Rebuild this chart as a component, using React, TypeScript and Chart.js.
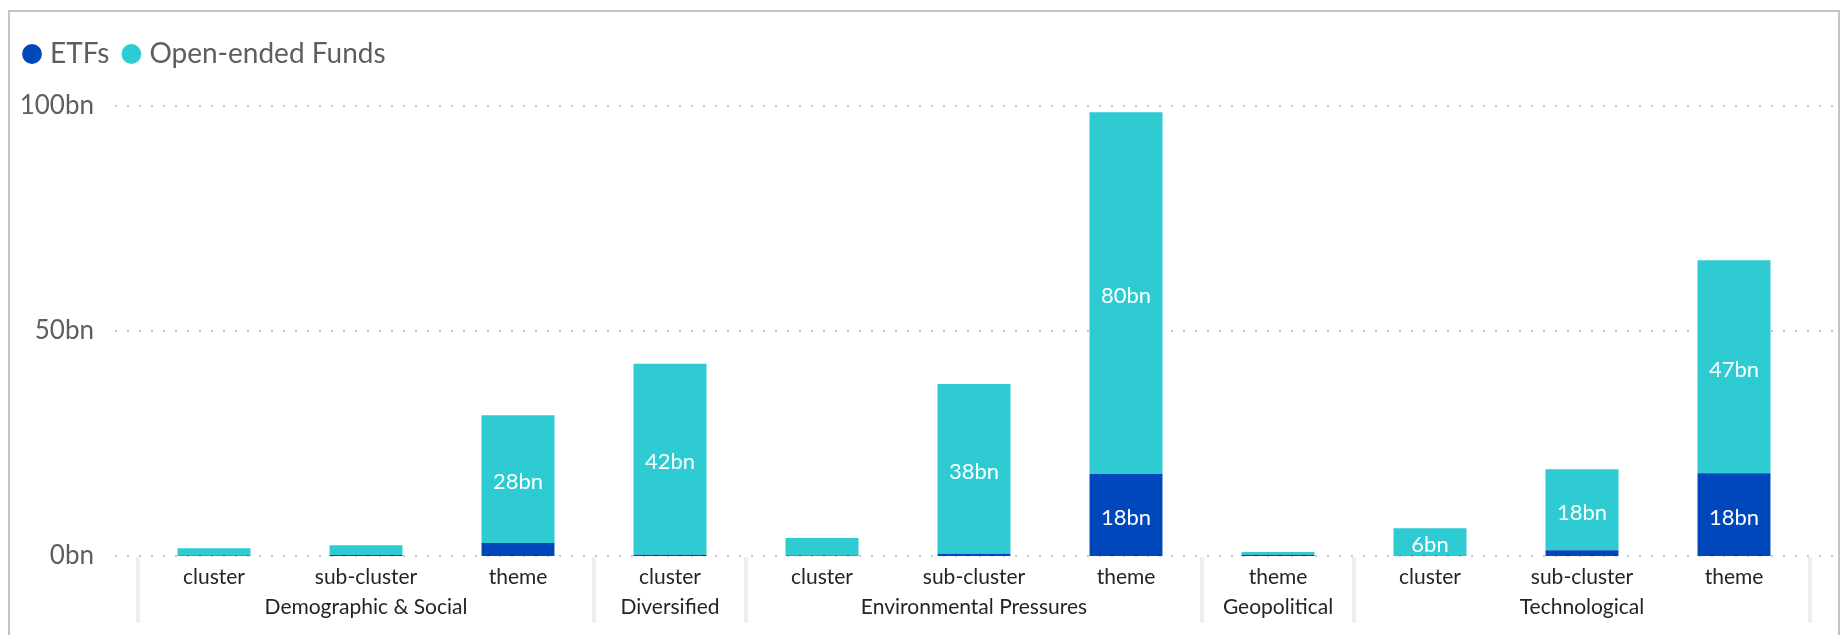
import React, { useEffect, useRef } from 'react';
import { Chart, registerables } from 'chart.js';

Chart.register(...registerables);

// ---- data ----
const subCategories = ['cluster', 'sub-cluster', 'theme', 'cluster', 'cluster', 'sub-cluster', 'theme', 'theme', 'cluster', 'sub-cluster', 'theme'];
const groups = [
  'Demographic & Social', 'Demographic & Social', 'Demographic & Social',
  'Diversified',
  'Environmental Pressures', 'Environmental Pressures', 'Environmental Pressures',
  'Geopolitical',
  'Technological', 'Technological', 'Technological',
];
const etfValues = [0.1, 0.2, 2.9, 0.3, 0.1, 0.5, 18.2, 0.3, 0.05, 1.3, 18.4];
const openEndedValues = [1.6, 2.2, 28.4, 42.4, 3.9, 37.7, 80.4, 0.6, 6.1, 18.0, 47.3];
const yTickValues = [0, 50, 100];
const seriesNames = ['ETFs', 'Open-ended Funds'];
const seriesColors = ['#0047BB', '#2ECBD3'];

const FONT = 'Lato, "Noto Sans", sans-serif';

// group spans -> multi-line labels (group name under the middle category)
function buildSpans() {
  const spans: { name: string; start: number; end: number }[] = [];
  groups.forEach((g, i) => {
    const last = spans[spans.length - 1];
    if (last && last.name === g) last.end = i;
    else spans.push({ name: g, start: i, end: i });
  });
  return spans;
}
const spans = buildSpans();
const labels = subCategories.map((s, i) => {
  const sp = spans.find((p) => i >= p.start && i <= p.end)!;
  const mid = Math.floor((sp.start + sp.end) / 2);
  return i === mid ? [s, sp.name] : [s];
});

const yGridPlugin = {
  id: 'yGridExt',
  beforeDatasetsDraw(chart: any) {
    const { ctx, chartArea, scales } = chart;
    const y = scales.y;
    ctx.save();
    ctx.strokeStyle = '#c8c8c8';
    ctx.lineWidth = 2;
    ctx.setLineDash([2, 10]);
    for (const v of yTickValues) {
      const py = Math.round(y.getPixelForValue(v));
      ctx.beginPath();
      ctx.moveTo(chartArea.left - 23, py);
      ctx.lineTo(chartArea.right + 23, py);
      ctx.stroke();
    }
    ctx.restore();
  },
};

const separatorPlugin = {
  id: 'groupSeparators',
  afterDraw(chart: any) {
    const { ctx, chartArea, scales } = chart;
    const x = scales.x;
    const bounds = [0, ...spans.map((s) => s.end + 1)];
    ctx.save();
    ctx.strokeStyle = '#efefef';
    ctx.lineWidth = 4;
    for (const b of bounds) {
      const px = x.getPixelForValue(b - 0.5);
      ctx.beginPath();
      ctx.moveTo(px, chartArea.bottom + 1);
      ctx.lineTo(px, chartArea.bottom + 67);
      ctx.stroke();
    }
    ctx.restore();
  },
};

const dataLabelPlugin = {
  id: 'segmentLabels',
  afterDatasetsDraw(chart: any) {
    const { ctx } = chart;
    ctx.save();
    ctx.fillStyle = '#ffffff';
    ctx.font = `22px ${FONT}`;
    ctx.textAlign = 'center';
    ctx.textBaseline = 'middle';
    chart.data.datasets.forEach((ds: any, di: number) => {
      const meta = chart.getDatasetMeta(di);
      meta.data.forEach((el: any, i: number) => {
        const v = ds.data[i];
        if (v < 5) return;
        const cy = (el.y + el.base) / 2 + 3;
        ctx.fillText(`${Math.round(v)}bn`, el.x, cy);
      });
    });
    ctx.restore();
  },
};

const legendSpacerPlugin = {
  id: 'legendSpacer',
  beforeLayout(chart: any) {
    const lg = chart.legend;
    if (lg && !lg.__spaced) {
      const fit = lg.fit.bind(lg);
      lg.fit = function () {
        fit();
        this.height += 28;
      };
      lg.__spaced = true;
    }
  },
};

export default function App() {
  const ref = useRef<HTMLCanvasElement | null>(null);

  useEffect(() => {
    document.documentElement.style.overflow = 'hidden';
    document.body.style.overflow = 'hidden';
    if (!ref.current) return;
    Chart.defaults.font.family = FONT;
    const chart = new Chart(ref.current, {
      type: 'bar',
      data: {
        labels,
        datasets: [
          {
            label: seriesNames[0],
            data: etfValues,
            backgroundColor: seriesColors[0],
            borderWidth: 0,
            barPercentage: 0.48,
            categoryPercentage: 1,
          },
          {
            label: seriesNames[1],
            data: openEndedValues,
            backgroundColor: seriesColors[1],
            borderWidth: 0,
            barPercentage: 0.48,
            categoryPercentage: 1,
          },
        ],
      },
      options: {
        responsive: false,
        animation: false,
        events: [],
        layout: { padding: { top: 10, right: 28, left: 0, bottom: 0 } },
        plugins: {
          tooltip: { enabled: false },
          legend: {
            position: 'top',
            align: 'start',
            labels: {
              usePointStyle: true,
              pointStyle: 'circle',
              boxWidth: 8,
              boxHeight: 14,
              padding: 18,
              color: '#605E5C',
              font: { size: 28, family: FONT },
            },
          },
        },
        scales: {
          x: {
            stacked: true,
            grid: { display: false, drawTicks: false },
            border: { display: false },
            ticks: {
              color: '#252423',
              font: { size: 21, lineHeight: 1.43, family: FONT },
              padding: 6,
              maxRotation: 0,
              autoSkip: false,
            },
            afterFit: (s: any) => {
              s.height = 79;
            },
          },
          y: {
            stacked: true,
            min: 0,
            max: 100,
            grid: { display: false, drawTicks: false },
            border: { display: false },
            ticks: {
              stepSize: 50,
              color: '#605E5C',
              font: { size: 26, family: FONT },
              padding: 44,
              callback: (v: any) => `${v}bn`,
            },
            afterFit: (s: any) => {
              s.width = 128;
            },
          },
        },
      } as any,
      plugins: [legendSpacerPlugin, yGridPlugin, dataLabelPlugin, separatorPlugin],
    });
    return () => chart.destroy();
  }, []);

  return (
    <div
      style={{
        marginTop: 2,
        border: '2px solid #c4c4c4',
        width: 1828,
        height: 660,
        boxSizing: 'content-box',
        background: '#fff',
      }}
    >
      <canvas ref={ref} width={1828} height={623} style={{ display: 'block' }} />
    </div>
  );
}
